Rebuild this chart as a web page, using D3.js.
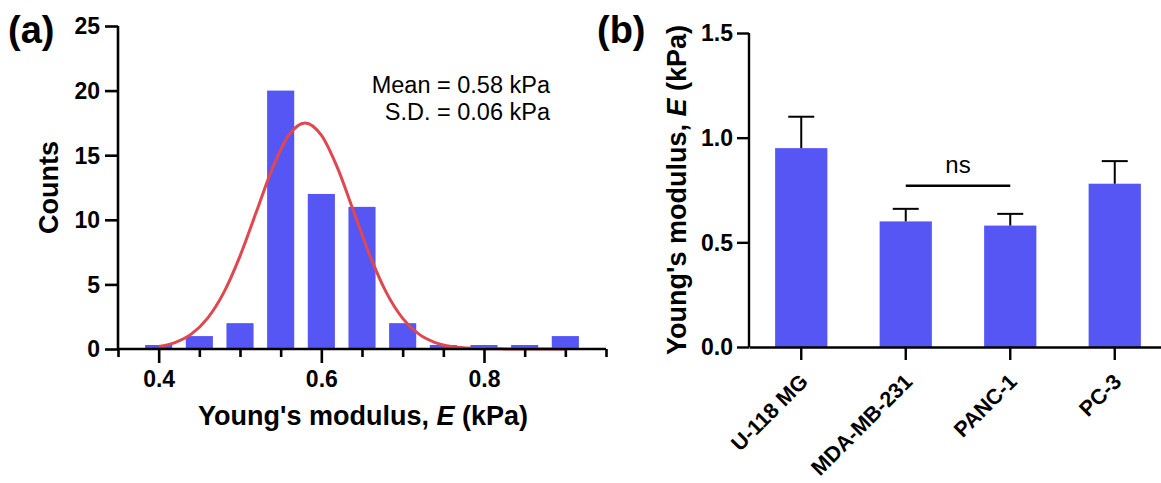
<!DOCTYPE html>
<html>
<head>
<meta charset="utf-8">
<script src="https://cdn.jsdelivr.net/npm/d3@7"></script>
<style>
  body { margin: 0; background: #fff; }
  svg { font-family: Arial, 'Liberation Sans', sans-serif; }
  .tick text { font-weight: bold; }
</style>
</head>
<body>
<script>
'use strict'

const fontFamily = "Arial, 'Liberation Sans', sans-serif"

// (a) histogram of Young's modulus
const binCenters = [0.40, 0.45, 0.50, 0.55, 0.60, 0.65, 0.70, 0.75, 0.80, 0.85, 0.90]
const binCounts = [0, 1, 2, 20, 12, 11, 2, 0, 0, 0, 1]
// gaussian fit
const fitX = [0.40, 0.42, 0.44, 0.46, 0.48, 0.50, 0.52, 0.54, 0.56, 0.58, 0.60, 0.62, 0.64, 0.66, 0.68, 0.70, 0.72, 0.74, 0.76, 0.78, 0.80, 0.82, 0.84, 0.86, 0.88, 0.90]
const fitY = [0.19, 0.50, 1.15, 2.37, 4.36, 7.19, 10.6, 14.0, 16.55, 17.5, 16.55, 14.0, 10.6, 7.19, 4.36, 2.37, 1.15, 0.50, 0.19, 0.07, 0.02, 0.01, 0, 0, 0, 0]
const xTicksMajor = [0.4, 0.6, 0.8]
const xTicksMinor = [0.35, 0.45, 0.5, 0.55, 0.65, 0.7, 0.75, 0.85, 0.9, 0.95]
const countTicks = [0, 5, 10, 15, 20, 25]
const statLines = ['Mean = 0.58 kPa', 'S.D. = 0.06 kPa']

// (b) bar chart per cell line
const cellLines = ['U-118 MG', 'MDA-MB-231', 'PANC-1', 'PC-3']
const modulusMean = [0.95, 0.60, 0.58, 0.78]
const modulusSem = [0.15, 0.06, 0.056, 0.108]
const modulusTicks = [0.0, 0.5, 1.0, 1.5]
const nsPair = ['MDA-MB-231', 'PANC-1']
const nsLevel = 0.77

const barColor = '#5656f5'
const fitColor = '#e0474f'

const width = 1161
const height = 483

const svg = d3.select('body').append('svg')
    .attr('width', width)
    .attr('height', height)

// ---------- panel (a) ----------
const x = d3.scaleLinear().domain([0.35, 0.95]).range([118, 606])
const y = d3.scaleLinear().domain([0, 25]).range([349, 26])

const gA = svg.append('g')

const barW = x(0.35 + 0.05 * 2 / 3) - x(0.35)
gA.append('g')
    .selectAll('rect')
    .data(binCenters)
    .enter()
    .append('rect')
    .attr('x', (d) => x(d) - barW / 2)
    .attr('width', barW)
    .attr('y', (d, i) => Math.min(y(binCounts[i]), y(0) - 4))
    .attr('height', (d, i) => Math.max(y(0) - y(binCounts[i]), 4))
    .attr('fill', barColor)

const fitLine = d3.line()
    .x((d) => x(d))
    .y((d, i) => y(fitY[i]))
    .curve(d3.curveMonotoneX)

gA.append('path')
    .attr('d', fitLine(fitX))
    .attr('fill', 'none')
    .attr('stroke', fitColor)
    .attr('stroke-width', 3)

// axes
const axA = gA.append('g').attr('transform', `translate(0,${y(0)})`)
axA.call(d3.axisBottom(x).tickValues(xTicksMinor).tickSize(8).tickFormat(''))
const axA2 = gA.append('g').attr('transform', `translate(0,${y(0)})`)
axA2.call(d3.axisBottom(x).tickValues(xTicksMajor).tickSize(14).tickPadding(8).tickFormat(d3.format('.1f')))

const ayA = gA.append('g').attr('transform', `translate(${x(0.35)},0)`)
ayA.call(d3.axisLeft(y).tickValues(countTicks).tickSize(13).tickPadding(5))

gA.selectAll('.domain').attr('stroke', '#000').attr('stroke-width', 2.6)
gA.selectAll('.tick line').attr('stroke', '#000').attr('stroke-width', 2.6)
gA.selectAll('.tick text').attr('font-size', 23).attr('fill', '#000')
axA.select('.domain').attr('d', `M${x(0.35)},0H${x(0.95)}`)
axA2.select('.domain').remove()
ayA.select('.domain').attr('d', `M0,${y(25)}V${y(0)}`)
ayA.selectAll('.tick text').attr('dy', '0.34em')

gA.append('text')
    .attr('x', 363)
    .attr('y', 425)
    .attr('text-anchor', 'middle')
    .attr('font-size', 27)
    .attr('font-weight', 'bold')
    .html('Young\'s modulus, <tspan font-style="italic">E</tspan> (kPa)')

gA.append('text')
    .attr('transform', `translate(58,${(y(0) + y(25)) / 2}) rotate(-90)`)
    .attr('text-anchor', 'middle')
    .attr('font-size', 27)
    .attr('font-weight', 'bold')
    .text('Counts')

gA.selectAll('.stat')
    .data(statLines)
    .enter()
    .append('text')
    .attr('class', 'stat')
    .attr('x', 550)
    .attr('y', (d, i) => 93 + i * 27)
    .attr('text-anchor', 'end')
    .attr('font-size', 23.5)
    .text((d) => d)

svg.append('text')
    .attr('x', 8)
    .attr('y', 43)
    .attr('font-size', 38)
    .attr('font-weight', 'bold')
    .text('(a)')

// ---------- panel (b) ----------
const xb = d3.scaleBand().domain(cellLines).range([749, 1167]).paddingInner(0.5).paddingOuter(0.25)
const yb = d3.scaleLinear().domain([0, 1.5]).range([347, 33])

const gB = svg.append('g')

gB.append('g')
    .selectAll('rect')
    .data(cellLines)
    .enter()
    .append('rect')
    .attr('x', (d) => xb(d))
    .attr('width', xb.bandwidth())
    .attr('y', (d, i) => yb(modulusMean[i]))
    .attr('height', (d, i) => yb(0) - yb(modulusMean[i]))
    .attr('fill', barColor)

// error bars (upper half only)
const err = gB.append('g')
    .selectAll('g')
    .data(cellLines)
    .enter()
    .append('g')
err.append('line')
    .attr('x1', (d) => xb(d) + xb.bandwidth() / 2)
    .attr('x2', (d) => xb(d) + xb.bandwidth() / 2)
    .attr('y1', (d, i) => yb(modulusMean[i]))
    .attr('y2', (d, i) => yb(modulusMean[i] + modulusSem[i]))
err.append('line')
    .attr('x1', (d) => xb(d) + xb.bandwidth() / 2 - 13)
    .attr('x2', (d) => xb(d) + xb.bandwidth() / 2 + 13)
    .attr('y1', (d, i) => yb(modulusMean[i] + modulusSem[i]))
    .attr('y2', (d, i) => yb(modulusMean[i] + modulusSem[i]))
err.selectAll('line').attr('stroke', '#000').attr('stroke-width', 2)

// ns bracket
gB.append('line')
    .attr('x1', xb(nsPair[0]) + xb.bandwidth() / 2)
    .attr('x2', xb(nsPair[1]) + xb.bandwidth() / 2)
    .attr('y1', yb(nsLevel))
    .attr('y2', yb(nsLevel))
    .attr('stroke', '#000')
    .attr('stroke-width', 2.4)
gB.append('text')
    .attr('x', (xb(nsPair[0]) + xb(nsPair[1]) + xb.bandwidth()) / 2)
    .attr('y', yb(nsLevel) - 13)
    .attr('text-anchor', 'middle')
    .attr('font-size', 24)
    .text('ns')

const axB = gB.append('g').attr('transform', `translate(0,${yb(0)})`)
axB.call(d3.axisBottom(xb).tickSize(13).tickSizeOuter(0))
axB.selectAll('.tick text')
    .attr('text-anchor', 'end')
    .attr('dy', 0)
    .attr('y', 0)
    .attr('transform', 'translate(8,36) rotate(-45)')
    .attr('font-size', 21.5)

const ayB = gB.append('g').attr('transform', `translate(749,0)`)
ayB.call(d3.axisLeft(yb).tickValues(modulusTicks).tickSize(12).tickPadding(4).tickFormat(d3.format('.1f')))
ayB.select('.domain').attr('d', `M0,${yb(1.5)}V${yb(0)}`)
ayB.selectAll('.tick text').attr('font-size', 23).attr('dy', '0.34em')

gB.selectAll('.domain').attr('stroke', '#000').attr('stroke-width', 2.4)
gB.selectAll('.tick line').attr('stroke', '#000').attr('stroke-width', 2.4)
gB.selectAll('.tick text').attr('fill', '#000')

gB.append('text')
    .attr('transform', `translate(686,${(yb(0) + yb(1.5)) / 2}) rotate(-90)`)
    .attr('text-anchor', 'middle')
    .attr('font-size', 27)
    .attr('font-weight', 'bold')
    .html('Young\'s modulus, <tspan font-style="italic">E</tspan> (kPa)')

svg.append('text')
    .attr('x', 597)
    .attr('y', 43)
    .attr('font-size', 38)
    .attr('font-weight', 'bold')
    .text('(b)')

// d3 axes set their own sans-serif family, put the chart font back
svg.selectAll('g').attr('font-family', fontFamily)
</script>
</body>
</html>
